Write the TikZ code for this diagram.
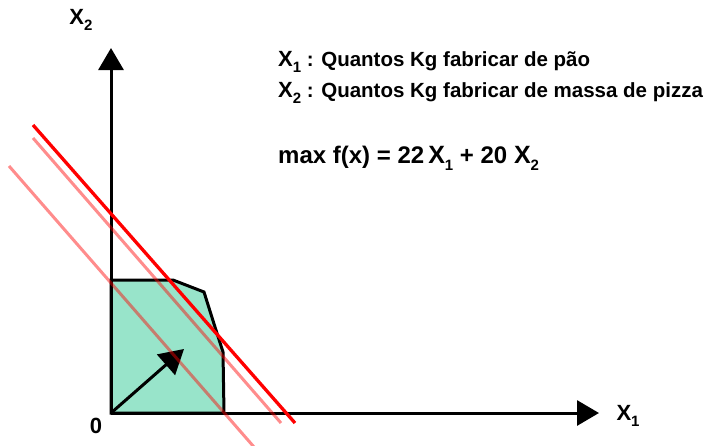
\documentclass[tikz,border=0pt]{standalone}
\usepackage{fontspec}
\setmainfont{Liberation Sans}
\usetikzlibrary{arrows.meta}
\definecolor{feas}{HTML}{98E4CA}
\newcommand{\Xs}[2][22]{{\fontsize{#1}{#1}\selectfont X}\raisebox{-0.3em}{\fontsize{15}{15}\selectfont #2}}
\tikzset{
  blk/.style={line width=3pt, draw=black},
  axis/.style={blk, -{Triangle[length=22pt,width=25pt]}},
  vec/.style={blk, -{Triangle[length=24pt,width=27pt]}},
  bestline/.style={line width=3.3pt, draw=red},
  isoline/.style={line width=3pt, draw=red, draw opacity=0.45},
  lbl/.style={font=\bfseries\fontsize{22}{22}\selectfont, inner sep=0pt},
  txt/.style={font=\bfseries\fontsize{20.5}{20.5}\selectfont, inner sep=0pt, anchor=base west},
}
\begin{document}
\begin{tikzpicture}[x=1pt,y=-1pt]
\useasboundingbox (0,0) rectangle (714,445);
\coordinate (O) at (111,413);
\coordinate (ytip) at (111,48);
\coordinate (xtip) at (599,413);
% feasible region
\filldraw[fill=feas, blk, line join=miter] (111,413) -- (111,280) -- (173,280) -- (204,292) -- (215,327) -- (223,352) -- (224,413) -- cycle;
% axes
\draw[axis] (O) -- (ytip);
\draw[axis] (O) -- (xtip);
% gradient vector
\coordinate (vtip) at (184,349);
\draw[vec] (O) -- (vtip);
% iso-profit lines
\coordinate (a1) at (33,125); \coordinate (a2) at (295,423);
\coordinate (b1) at (33,138); \coordinate (b2) at (281,423);
\coordinate (c1) at (9,166);  \coordinate (c2) at (254,447);
\draw[isoline] (b1) -- (b2);
\draw[isoline] (c1) -- (c2);
\draw[bestline] (a1) -- (a2);
% labels
\node[lbl] (zero) at (96,426) {0};
\node[lbl] (x2lab) at (81,20) {X\raisebox{-0.3em}{\fontsize{15}{15}\selectfont 2}};
\node[lbl] (x1lab) at (628,416) {X\raisebox{-0.3em}{\fontsize{15}{15}\selectfont 1}};
\node[txt] (t1) at (278,66) {\Xs{1} : Quantos Kg fabricar de pão};
\node[txt] (t2) at (278,97) {\Xs{2} : Quantos Kg fabricar de massa de pizza};
\node[txt, font=\bfseries\fontsize{24}{24}\selectfont] (t3) at (278,163) {max f(x) = 22\,\Xs[25]{1} + 20 \Xs[25]{2}};
\end{tikzpicture}
\end{document}
